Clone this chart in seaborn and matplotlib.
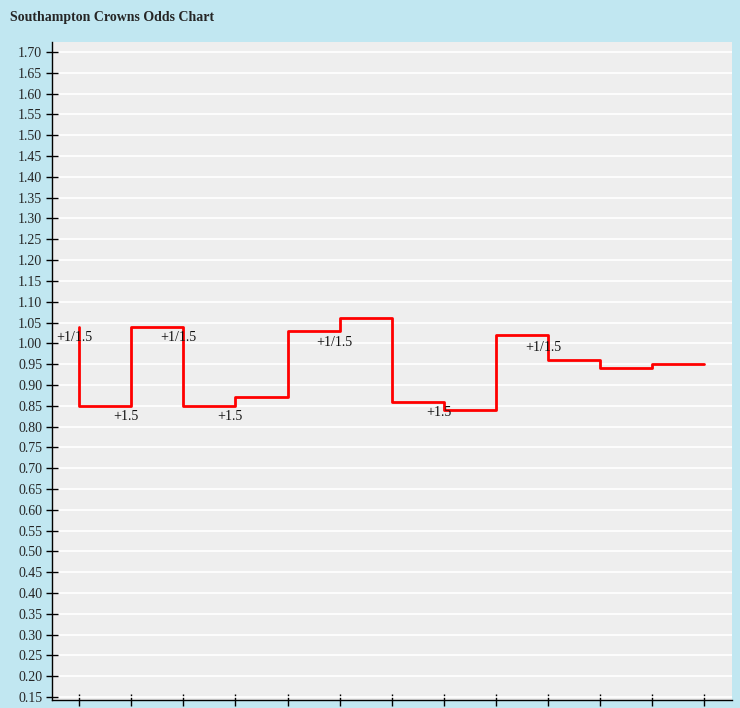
import matplotlib
matplotlib.use("Agg")
import matplotlib.pyplot as plt
import seaborn as sns
import pandas as pd
import numpy as np

# odds history
steps = list(range(13))
odds = [1.04, 0.85, 1.04, 0.85, 0.87, 1.03, 1.06, 0.86, 0.84, 1.02, 0.96, 0.94, 0.95]

# handicap labels
label_idx = [0, 1, 2, 3, 5, 7, 9]
label_text = ["+1/1.5", "+1.5", "+1/1.5", "+1.5", "+1/1.5", "+1.5", "+1/1.5"]
label_y = [1.013, 0.823, 1.013, 0.823, 1.003, 0.833, 0.991]

y_ticks = np.round(np.arange(0.15, 1.7001, 0.05), 2)

sns.set_theme(style="whitegrid")
plt.rcParams["font.family"] = ["Liberation Serif", "DejaVu Serif"]

fig = plt.figure(figsize=(7.4, 7.08), dpi=100, facecolor="#c1e7f1")
ax = fig.add_axes([52 / 740, 8 / 708, 680 / 740, 658 / 708])
ax.set_facecolor("#eeeeee")

df = pd.DataFrame({"step": steps, "odds": odds})
sns.lineplot(data=df, x="step", y="odds", ax=ax, color="#ff0000", linewidth=2,
             drawstyle="steps-pre")

for i, t, y in zip(label_idx, label_text, label_y):
    ax.text(i - 0.1, y, t, ha="center", va="center", fontsize=10, color="#111111")

ax.set_xlim(-0.52, 12.53)
ax.set_ylim(0.143, 1.724)
ax.set_yticks(y_ticks)
ax.set_yticklabels([f"{v:.2f}" for v in y_ticks], fontsize=10)
ax.set_xticks(steps)
ax.set_xticklabels([])
ax.set_xlabel("")
ax.set_ylabel("")
ax.grid(axis="y", color="white", linewidth=1.2)
ax.grid(axis="x", visible=False)
ax.tick_params(axis="both", direction="inout", length=8, width=1, color="black",
               pad=3, bottom=True, left=True)
for side in ["top", "right"]:
    ax.spines[side].set_visible(False)
for side in ["left", "bottom"]:
    ax.spines[side].set_color("black")
    ax.spines[side].set_linewidth(1)

fig.text(10 / 740, 1 - 18 / 708, "Southampton Crowns Odds Chart", fontsize=10,
         fontweight="bold", va="center", ha="left")

fig.savefig("out.png", dpi=100, facecolor=fig.get_facecolor())
